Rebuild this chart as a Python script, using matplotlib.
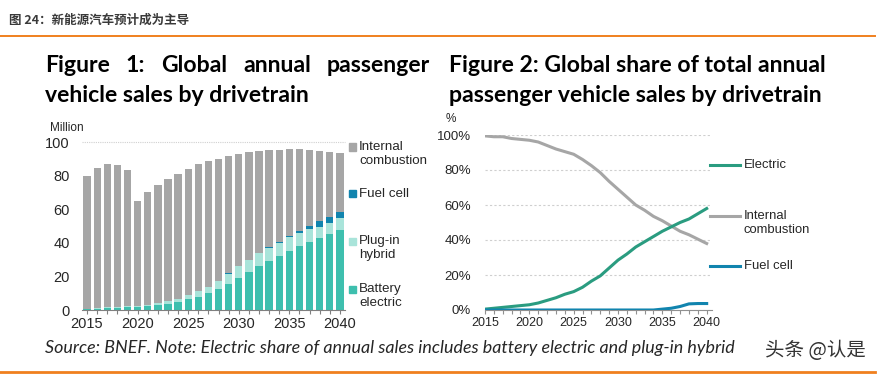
import numpy as np
import matplotlib
matplotlib.use("Agg")
import matplotlib.pyplot as plt
from matplotlib.lines import Line2D

plt.rcParams['font.family'] = ['Liberation Sans', 'Noto Sans CJK SC', 'DejaVu Sans']

# ---- data: figure 1 (million vehicles, stacked) ----
years = list(range(2015, 2041))
bev = [0.5, 0.7, 1.0, 1.3, 1.6, 1.7, 2.3, 3.0, 3.8, 5.0, 6.5, 8.0, 10.3, 12.7, 15.7, 19.3,
       22.7, 26.2, 29.2, 32.2, 35.4, 38.2, 40.6, 42.7, 45.3, 47.7]
phev = [0.3, 0.3, 0.5, 0.7, 0.7, 0.7, 0.9, 1.2, 1.5, 1.8, 2.2, 3.3, 3.6, 4.4, 6.0, 6.9,
        7.1, 7.6, 8.0, 8.0, 7.9, 7.7, 7.5, 7.0, 6.8, 7.0]
fuel_cell = [0.0, 0.0, 0.0, 0.0, 0.0, 0.0, 0.0, 0.0, 0.0, 0.0, 0.0, 0.0, 0.1, 0.1, 0.1, 0.2,
             0.2, 0.3, 0.3, 0.6, 1.0, 1.4, 2.0, 3.4, 3.6, 3.7]
total = [80.0, 84.7, 86.9, 86.5, 83.3, 64.8, 70.4, 74.4, 78.3, 81.3, 84.3, 87.0, 88.7, 90.3,
         91.7, 93.2, 94.4, 94.8, 95.2, 95.6, 96.0, 96.0, 95.6, 94.6, 94.4, 93.6]

# ---- data: figure 2 (share of sales, %) ----
share_electric = [0.5, 1.0, 1.5, 2.0, 2.5, 3.0, 4.0, 5.5, 7.0, 9.0, 10.5, 13.0, 16.5, 19.5,
                  24.0, 28.5, 32.0, 36.0, 39.0, 42.0, 45.0, 47.5, 50.0, 52.0, 55.0, 58.0]
share_ice = [99.5, 99.0, 99.0, 98.0, 97.5, 97.0, 96.0, 94.0, 92.0, 90.5, 89.0, 86.0, 82.5,
             78.5, 73.5, 69.0, 64.5, 60.0, 57.0, 53.5, 51.0, 48.0, 45.0, 43.0, 40.5, 38.0]
share_fc = [0, 0, 0, 0, 0, 0, 0, 0, 0, 0, 0, 0, 0, 0, 0, 0, 0, 0, 0, 0, 0.5, 1.0, 2.0, 3.5,
            3.7, 3.7]

ice = [t - b - p - f for t, b, p, f in zip(total, bev, phev, fuel_cell)]

C_ICE = '#A6A6A6'
C_BEV = '#3EBFAE'
C_PHEV = '#A9E4DA'
C_FC = '#1184AE'
C_EL = '#2A9C80'
ORANGE = '#F0801E'
TXT = '#262626'

W, H = 889, 375
fig = plt.figure(figsize=(W / 100, H / 100), dpi=100)
renderer = fig.canvas.get_renderer()


def box(x0, y0, x1, y1):
    # pixel box (top-left origin) -> figure fraction
    return [x0 / W, 1 - y1 / H, (x1 - x0) / W, (y1 - y0) / H]


def ftext(x, y, s, **kw):
    return fig.text(x / W, 1 - y / H, s, **kw)


# header
ftext(9, 20, '图 24：新能源汽车预计成为主导', family=['Noto Sans CJK SC'],
      fontsize=9, fontweight='bold', color='#3A3A3A', va='center')
fig.add_artist(Line2D([0, 875 / W], [1 - 36 / H] * 2, color=ORANGE, lw=1.4))
fig.add_artist(Line2D([0, 875 / W], [1 - 372 / H] * 2, color=ORANGE, lw=2))

# panel titles
tkw = dict(family='Lato', fontsize=16.6, fontweight='bold', color='black', va='center')

# first line of the left title is justified between x=45 and x=430
words = ['Figure', '1:', 'Global', 'annual', 'passenger']
arts = [ftext(45, 65, w, **tkw) for w in words]
widths = [a.get_window_extent(renderer).width for a in arts]
gap = (430 - 45 - sum(widths)) / (len(words) - 1)
xpos = 45
for a, wd in zip(arts, widths):
    a.set_x(xpos / W)
    xpos += wd + gap
ftext(45, 95, 'vehicle sales by drivetrain', **tkw)
ftext(449, 65, 'Figure 2: Global share of total annual', **tkw)
ftext(449, 95, 'passenger vehicle sales by drivetrain', **tkw)

# ---- figure 1: stacked bars ----
ax1 = fig.add_axes(box(82, 142.3, 345, 310))
x = np.arange(len(years))
bw = 0.72
ax1.bar(x, bev, bw, color=C_BEV, zorder=2)
b2 = np.array(bev)
ax1.bar(x, phev, bw, bottom=b2, color=C_PHEV, zorder=2)
b2 = b2 + np.array(phev)
ax1.bar(x, fuel_cell, bw, bottom=b2, color=C_FC, zorder=2)
b2 = b2 + np.array(fuel_cell)
ax1.bar(x, ice, bw, bottom=b2, color=C_ICE, zorder=2)
ax1.axhline(100, color='#D0D0D0', lw=0.8, ls=(0, (1, 1)), zorder=1, clip_on=False)
ax1.set_xlim(-0.5, len(years) - 0.5)
ax1.set_ylim(0, 100)
ax1.set_yticks([0, 20, 40, 60, 80, 100])
ax1.set_xticks(x)
ax1.set_xticklabels([str(y) if y % 5 == 0 else '' for y in years])
for s in ['top', 'right', 'left']:
    ax1.spines[s].set_visible(False)
ax1.spines['bottom'].set_color('#808080')
ax1.tick_params(axis='y', length=0, labelsize=10.5, colors=TXT, pad=9)
ax1.tick_params(axis='x', length=3, color='#808080', labelsize=10.5, colors=TXT, pad=2)
ax1.text(-0.12, 1.085, 'Million', transform=ax1.transAxes, fontsize=8.5, color=TXT,
         ha='left', va='center')

# legend for figure 1
for (ly, label, col) in [(147, 'Internal\ncombustion', C_ICE), (194, 'Fuel cell', C_FC),
                         (241, 'Plug-in\nhybrid', C_PHEV), (289, 'Battery\nelectric', C_BEV)]:
    fig.patches.append(plt.Rectangle((349 / W, 1 - (ly + 3.5) / H), 7 / W, 7 / H,
                                     color=col, transform=fig.transFigure, figure=fig))
    ftext(359, ly + (7 if '\n' in label else 0), label, fontsize=9.6, color=TXT,
          va='center', linespacing=1.2)

# ---- figure 2: share lines ----
ax2 = fig.add_axes(box(485, 135, 712, 310))
ax2.plot(years, share_ice, color=C_ICE, lw=2.2, zorder=3)
ax2.plot(years, share_electric, color=C_EL, lw=2.2, zorder=3)
ax2.plot(years, share_fc, color=C_FC, lw=2.2, zorder=4)
ax2.set_xlim(2015, 2040.6)
ax2.set_ylim(0, 100)
ax2.set_yticks([0, 20, 40, 60, 80, 100])
ax2.set_yticklabels(['0%', '20%', '40%', '60%', '80%', '100%'])
ax2.set_xticks(years)
ax2.set_xticklabels([str(y) if y % 5 == 0 else '' for y in years])
ax2.yaxis.grid(True, color='#CFCFCF', lw=0.8, ls=(0, (2, 2)))
ax2.set_axisbelow(True)
for s in ['top', 'right', 'left']:
    ax2.spines[s].set_visible(False)
ax2.spines['bottom'].set_color('#909090')
ax2.tick_params(axis='y', length=0, labelsize=9.5, colors=TXT, pad=10)
ax2.tick_params(axis='x', length=3, color='#909090', labelsize=9, colors=TXT, pad=2)
ax2.text(-0.175, 1.09, '%', transform=ax2.transAxes, fontsize=8.5, color=TXT,
         ha='left', va='center')

for (ly, label, col, dy) in [(165, 'Electric', C_EL, 0), (216, 'Internal\ncombustion', C_ICE, 7),
                             (266, 'Fuel cell', C_FC, 0)]:
    fig.add_artist(Line2D([710 / W, 740 / W], [1 - ly / H] * 2, color=col, lw=2.2))
    ftext(744, ly + dy, label, fontsize=9.4, color=TXT, va='center', linespacing=1.2)

# footnote and watermark
ftext(45, 348, 'Source: BNEF. Note: Electric share of annual sales includes battery electric '
      'and plug-in hybrid', family='Lato', fontsize=12.9, style='italic', color=TXT,
      va='center')
ftext(765, 350, '头条 @认是', family=['Noto Sans CJK SC'], fontsize=14, color='#333333',
      va='center')

fig.savefig('out.png', dpi=100)
